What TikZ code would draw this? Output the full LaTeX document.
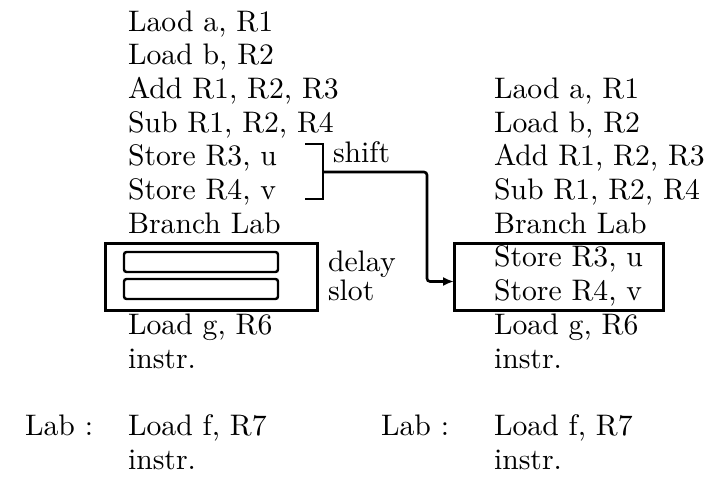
\documentclass[tikz,border=0pt]{standalone}
\usetikzlibrary{arrows.meta}
\begin{document}
\begin{tikzpicture}[x=1pt,y=-1pt,
  txt/.style={anchor=base west, inner sep=0pt, outer sep=0pt, scale=2.97},
  frame/.style={draw, line width=3pt, inner sep=0pt, outer sep=0pt},
  slotbox/.style={draw, line width=2.4pt, rounded corners=2.5pt, inner sep=0pt,
                  minimum width=154pt, minimum height=20pt},
  wire/.style={line width=2.6pt}]
\useasboundingbox (0,0) rectangle (716,477);

% baseline of line i of the listings
\def\ls{33.7}
\def\bl#1{31+(#1-1)*\ls}

% ---- left listing: branch with empty delay slots ----
\node[txt] (a1)  at (128,{\bl{1}})  {Laod a, R1};
\node[txt] (a2)  at (128,{\bl{2}})  {Load b, R2};
\node[txt] (a3)  at (128,{\bl{3}})  {Add R1, R2, R3};
\node[txt] (a4)  at (128,{\bl{4}})  {Sub R1, R2, R4};
\node[txt] (a5)  at (128,{\bl{5}})  {Store R3, u};
\node[txt] (a6)  at (128,{\bl{6}})  {Store R4, v};
\node[txt] (a7)  at (128,{\bl{7}})  {Branch Lab};
\node[txt] (a10) at (128,{\bl{10}}) {Load g, R6};
\node[txt] (a11) at (128,{\bl{11}}) {instr.};
\node[txt] (alab) at (25,{\bl{13}}) {Lab :};
\node[txt] (a13) at (128,{\bl{13}}) {Load f, R7};
\node[txt] (a14) at (128,{\bl{14}}) {instr.};

% delay slot frame with two empty slots
\node[frame, minimum width=212pt, minimum height=67pt] (lbox) at (211,276.5) {};
\node[slotbox] (s1) at (201,262) {};
\node[slotbox] (s2) at (201,289) {};
\node[txt] (dl) at (328,271) {delay};
\node[txt] (sl) at (328,300) {slot};

% bracket around the two stores
\coordinate (bt) at (305,144);
\coordinate (bb) at (305,199);
\coordinate (bm) at (323,172);
\draw[wire] (bt) -- ++(18,0) |- (bb);
\node[txt] (sh) at (333,162) {shift};

% ---- right listing: stores moved into the delay slots ----
\node[txt] (b3)  at (494,{\bl{3}})  {Laod a, R1};
\node[txt] (b4)  at (494,{\bl{4}})  {Load b, R2};
\node[txt] (b5)  at (494,{\bl{5}})  {Add R1, R2, R3};
\node[txt] (b6)  at (494,{\bl{6}})  {Sub R1, R2, R4};
\node[txt] (b7)  at (494,{\bl{7}})  {Branch Lab};
\node[txt] (b8)  at (494,{\bl{8}})  {Store R3, u};
\node[txt] (b9)  at (494,{\bl{9}})  {Store R4, v};
\node[txt] (b10) at (494,{\bl{10}}) {Load g, R6};
\node[txt] (b11) at (494,{\bl{11}}) {instr.};
\node[txt] (blab) at (381,{\bl{13}}) {Lab :};
\node[txt] (b13) at (494,{\bl{13}}) {Load f, R7};
\node[txt] (b14) at (494,{\bl{14}}) {instr.};

\node[frame, minimum width=209pt, minimum height=67pt] (rbox) at (558.5,276.5) {};

% shift arrow
\coordinate (bend) at (427,172);
\draw[wire, rounded corners=3pt, -{Latex[length=11pt,width=9pt]}]
  (bm) -- (bend) |- ([yshift=-5pt]rbox.west);
\end{tikzpicture}
\end{document}
